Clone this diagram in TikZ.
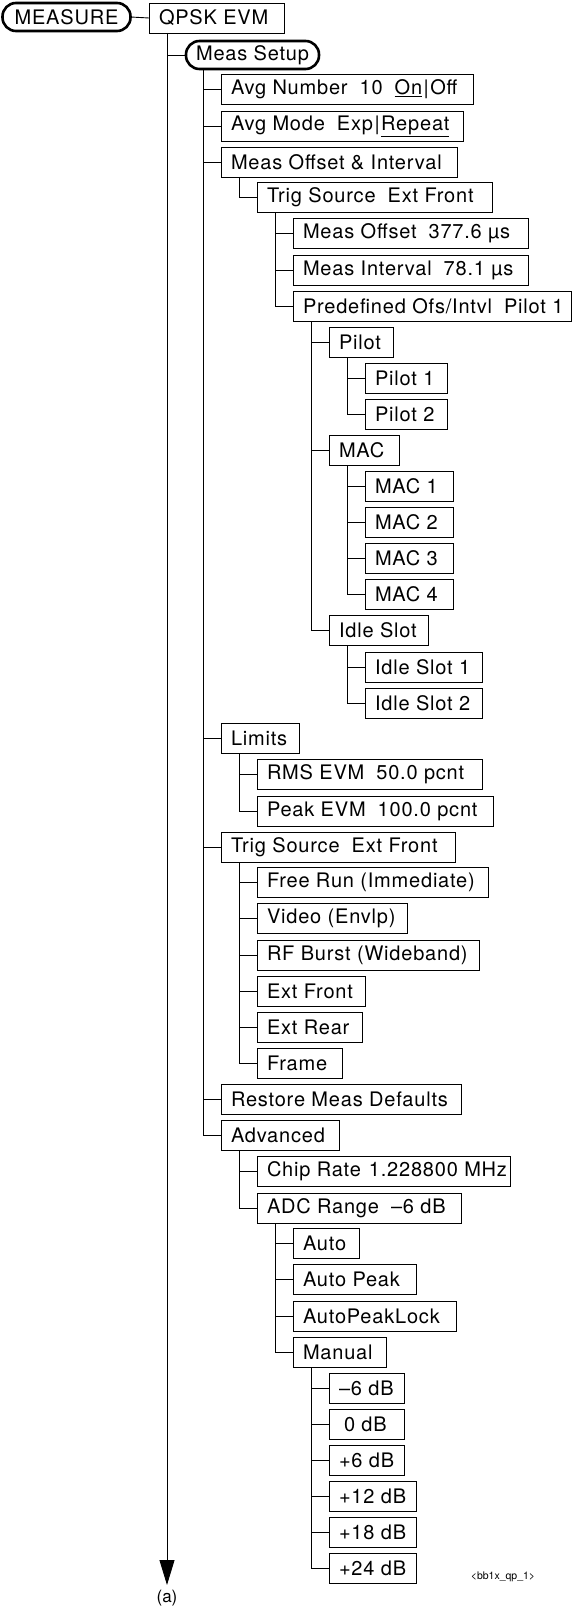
\documentclass[tikz,border=0pt]{standalone}
\usepackage{fontspec}
\setmainfont{TeX Gyre Heros}[LetterSpace=4]
\newfontfamily\plainfont{TeX Gyre Heros}
\usetikzlibrary{arrows.meta}
\tikzset{
  bx/.style={draw, line width=0.9pt, anchor=north west, minimum height=30pt,
    inner xsep=10pt, inner ysep=0pt, outer sep=0pt, font=\fontsize{20}{24}\selectfont},
  pill/.style={draw, line width=2.6pt, rounded corners=13.5pt, minimum height=28pt,
    inner xsep=6pt, inner ysep=0pt, outer sep=0pt, font=\fontsize{20}{24}\selectfont},
  conn/.style={line width=0.9pt},
  arr/.style={-{Triangle[length=25pt,width=15pt]}},
  lbl/.style={inner sep=0pt, font=\plainfont\fontsize{17}{19}\selectfont},
  tag/.style={inner sep=0pt, font=\plainfont\fontsize{10.5}{12}\selectfont},
}
\newcommand\bx[5]{\node[bx] (#1) at (#2,#3) {\makebox[\dimexpr#4pt-20pt\relax][l]{#5}};}
\newcommand\gap{\hspace{0.6em}}
\newcommand\vbarsep{\hspace{1.5pt}|\hspace{1.5pt}}
\newcommand\kids[3]{%
  \draw[conn] (#1.south west) ++(18,0) |- (#2.west);
  \foreach \c in {#3} {\draw[conn] (\c.west) -- ++(-18,0);}}
\begin{document}
\begin{tikzpicture}[x=1pt,y=-1pt]
\useasboundingbox (0,0) rectangle (572,1608);
% top level
\node[pill, minimum width=128pt] (measure) at (66.5,17) {MEASURE};
\bx{qpsk}{149}{3}{135}{QPSK EVM}
\node[pill, minimum width=133pt] (setup) at (252.5,55) {Meas Setup};
% Meas Setup children
\bx{avgnum}{221}{74}{252}{Avg Number\gap 10\gap \underline{On}\vbarsep Off}
\bx{avgmode}{221}{111}{242}{Avg Mode\gap Exp\vbarsep\underline{Repeat}}
\bx{measoff}{221}{147}{236}{Meas Offset \& Interval}
\bx{trigA}{257}{182}{235}{Trig Source\gap Ext Front}
\bx{moff}{293}{218}{235}{Meas Offset\gap 377.6 µs}
\bx{mint}{293}{255}{235}{Meas Interval\gap 78.1 µs}
\bx{predef}{293}{291}{278}{Predefined Ofs/Intvl\gap Pilot 1}
\bx{pilot}{329}{327}{64}{Pilot}
\bx{pilotA}{365}{363}{82}{Pilot 1}
\bx{pilotB}{365}{399}{82}{Pilot 2}
\bx{mac}{329}{435}{70}{MAC}
\bx{macA}{365}{471}{88}{MAC 1}
\bx{macB}{365}{507}{88}{MAC 2}
\bx{macC}{365}{543}{88}{MAC 3}
\bx{macD}{365}{579}{88}{MAC 4}
\bx{idle}{329}{615}{99}{Idle Slot}
\bx{idleA}{365}{652}{117}{Idle Slot 1}
\bx{idleB}{365}{688}{117}{Idle Slot 2}
\bx{limits}{221}{723}{78}{Limits}
\bx{rms}{257}{759}{225}{RMS EVM\gap 50.0 pcnt}
\bx{peak}{257}{796}{236}{Peak EVM\gap 100.0 pcnt}
\bx{trigB}{221}{832}{234}{Trig Source\gap Ext Front}
\bx{free}{257}{867}{231}{Free Run (Immediate)}
\bx{video}{257}{903}{150}{Video (Envlp)}
\bx{rfb}{257}{940}{222}{RF Burst (Wideband)}
\bx{extf}{257}{976}{108}{Ext Front}
\bx{extr}{257}{1012}{105}{Ext Rear}
\bx{frame}{257}{1048}{85}{Frame}
\bx{restore}{221}{1084}{240}{Restore Meas Defaults}
\bx{adv}{221}{1120}{118}{Advanced}
\bx{chip}{257}{1156}{253}{Chip Rate\hspace{0.4em}1.228800 MHz}
\bx{adc}{257}{1193}{204}{ADC Range\gap –6 dB}
\bx{auto}{293}{1228}{66}{Auto}
\bx{autopk}{293}{1264}{123}{Auto Peak}
\bx{apl}{293}{1301}{163}{AutoPeakLock}
\bx{manual}{293}{1337}{93}{Manual}
\bx{mA}{329}{1373}{75}{–6 dB}
\bx{mB}{329}{1409}{75}{\hspace{5pt}0 dB}
\bx{mC}{329}{1445}{75}{+6 dB}
\bx{mD}{329}{1481}{87}{+12 dB}
\bx{mE}{329}{1517}{87}{+18 dB}
\bx{mF}{329}{1553}{87}{+24 dB}
% connectors
\coordinate (tip) at (167,1585);
\draw[conn] (measure.east) -- (qpsk.west);
\draw[conn, arr] (qpsk.south west -| tip) -- (tip);
\draw[conn] (setup.west) -- (setup.west -| tip);
\draw[conn] (setup.south west) ++(17,0) |- (adv.west);
\foreach \c in {avgnum,avgmode,measoff,limits,trigB,restore} {\draw[conn] (\c.west) -- ++(-18,0);}
\kids{measoff}{trigA}{}
\kids{trigA}{predef}{moff,mint}
\kids{predef}{idle}{pilot,mac}
\kids{pilot}{pilotB}{pilotA}
\kids{mac}{macD}{macA,macB,macC}
\kids{idle}{idleB}{idleA}
\kids{limits}{peak}{rms}
\kids{trigB}{frame}{free,video,rfb,extf,extr}
\kids{adv}{adc}{chip}
\kids{adc}{manual}{auto,autopk,apl}
\kids{manual}{mF}{mA,mB,mC,mD,mE}
% labels
\node[lbl] (alabel) at (167,1598) {(a)};
\node[tag] (figtag) at (503,1577) {<bb1x\_qp\_1>};
\end{tikzpicture}
\end{document}
